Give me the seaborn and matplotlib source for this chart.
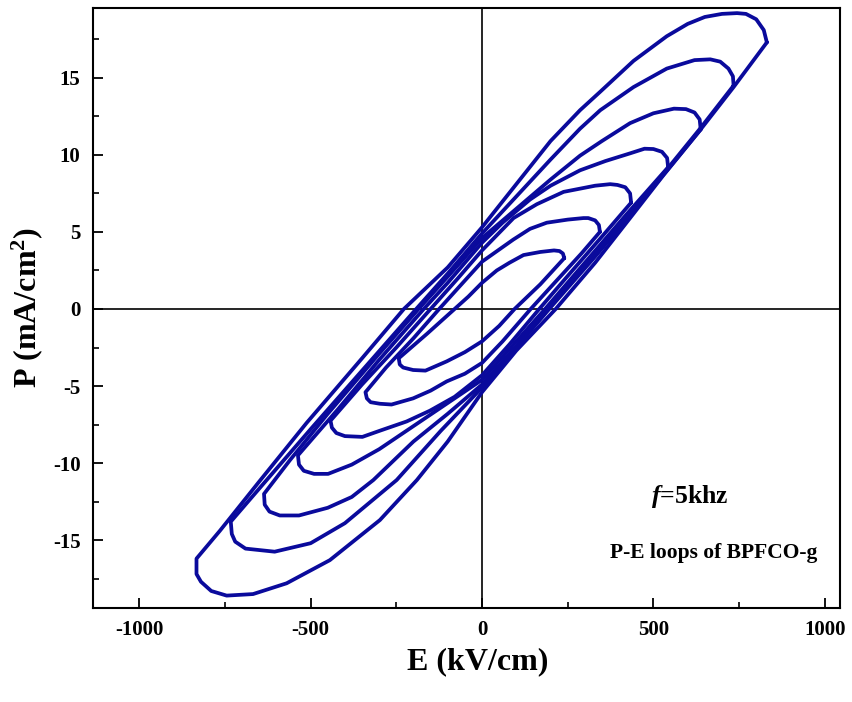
import matplotlib
matplotlib.use("Agg")
import matplotlib.pyplot as plt
import seaborn as sns
import pandas as pd
from matplotlib.ticker import MultipleLocator

# ---- data: P-E loops (E in kV/cm, P in mA/cm^2), traced right tip -> upper branch -> left tip -> lower branch -> right tip
loop1_E = [831, 822, 800, 770, 744, 700, 650, 600, 539, 442, 345, 286, 200, 100, 0, -100, -228, -350, -512, -650, -765, -833,
           -833, -820, -790, -745, -668, -570, -444, -298, -190, -100, 0, 100, 215, 330, 432, 530, 636, 734, 831]
loop1_P = [17.3, 18.1, 18.8, 19.15, 19.2, 19.15, 18.95, 18.5, 17.7, 16.1, 14.1, 12.9, 10.9, 8.1, 5.3, 2.7, 0.0, -3.2, -7.4, -11.2, -14.4, -16.2,
           -17.2, -17.7, -18.3, -18.6, -18.5, -17.8, -16.3, -13.7, -11.1, -8.6, -5.4, -2.7, 0.0, 3.0, 5.9, 8.7, 11.6, 14.4, 17.3]

loop2_E = [734, 732, 719, 695, 666, 620, 539, 442, 345, 286, 200, 100, 0, -100, -200, -350, -500, -640, -733,
           -733, -730, -720, -690, -605, -500, -400, -249, -120, 0, 100, 200, 330, 432, 530, 636, 734]
loop2_P = [14.5, 15.1, 15.6, 16.05, 16.2, 16.15, 15.6, 14.4, 12.9, 11.7, 9.7, 7.3, 4.9, 2.3, -0.2, -4.0, -7.8, -11.4, -13.8,
           -13.8, -14.6, -15.1, -15.55, -15.75, -15.2, -13.9, -11.1, -7.9, -5.1, -2.5, 0.1, 3.4, 6.1, 8.8, 11.7, 14.5]

loop3_E = [638, 635, 620, 595, 560, 500, 432, 350, 286, 200, 100, 0, -100, -185, -300, -450, -560, -636,
           -636, -634, -620, -590, -534, -450, -380, -317, -200, -100, 0, 100, 192, 300, 420, 540, 638]
loop3_P = [11.65, 12.3, 12.75, 12.97, 13.0, 12.7, 12.06, 10.9, 9.95, 8.4, 6.5, 4.6, 2.1, 0.0, -2.9, -6.8, -9.8, -12.0,
           -12.0, -12.7, -13.15, -13.4, -13.4, -12.9, -12.2, -11.1, -8.6, -6.8, -4.9, -2.4, 0.0, 2.8, 5.8, 9.0, 11.65]

loop4_E = [543, 540, 525, 500, 474, 432, 360, 286, 200, 140, 60, 0, -100, -170, -300, -420, -537,
           -537, -534, -520, -490, -449, -380, -300, -200, -100, 0, 100, 184, 300, 420, 543]
loop4_P = [9.2, 9.8, 10.2, 10.38, 10.4, 10.1, 9.6, 9.0, 8.0, 7.1, 5.6, 4.3, 1.7, 0.0, -3.3, -6.5, -9.5,
           -9.5, -10.1, -10.5, -10.7, -10.7, -10.1, -9.1, -7.6, -6.1, -4.6, -2.1, 0.0, 3.0, 6.1, 9.2]

loop5_E = [435, 432, 418, 395, 374, 330, 238, 160, 92, 0, -70, -150, -250, -350, -442,
           -442, -438, -425, -400, -349, -298, -220, -152, -80, 0, 80, 167, 260, 350, 435]
loop5_P = [6.9, 7.5, 7.9, 8.05, 8.1, 8.0, 7.6, 6.8, 5.9, 3.8, 2.0, 0.0, -2.5, -4.9, -7.25,
           -7.25, -7.7, -8.05, -8.25, -8.3, -7.9, -7.3, -6.6, -5.7, -4.3, -2.3, 0.0, 2.4, 4.7, 6.9]

loop6_E = [344, 341, 330, 310, 296, 250, 189, 140, 91, 0, -60, -125, -200, -280, -340,
           -340, -336, -325, -298, -264, -201, -150, -103, -50, 0, 60, 142, 220, 290, 344]
loop6_P = [5.0, 5.45, 5.75, 5.9, 5.9, 5.8, 5.6, 5.2, 4.5, 3.07, 1.6, 0.0, -1.9, -3.8, -5.4,
           -5.4, -5.8, -6.05, -6.15, -6.2, -5.8, -5.3, -4.7, -4.2, -3.5, -2.1, 0.0, 1.9, 3.6, 5.0]

loop7_E = [240, 236, 226, 210, 170, 121, 80, 43, 0, -40, -80, -160, -243,
           -243, -240, -230, -201, -165, -103, -50, 0, 50, 95, 170, 240]
loop7_P = [3.3, 3.6, 3.76, 3.8, 3.7, 3.5, 3.0, 2.5, 1.7, 0.8, 0.0, -1.6, -3.2,
           -3.2, -3.6, -3.8, -3.96, -4.0, -3.4, -2.8, -2.1, -1.1, 0.0, 1.6, 3.3]

loops = [(loop1_E, loop1_P), (loop2_E, loop2_P), (loop3_E, loop3_P), (loop4_E, loop4_P),
         (loop5_E, loop5_P), (loop6_E, loop6_P), (loop7_E, loop7_P)]

x_ticks = [-1000, -500, 0, 500, 1000]
y_ticks = [-15, -10, -5, 0, 5, 10, 15]
x_label = "E (kV/cm)"
y_label = r"P (mA/cm$^{2}$)"
note1 = r"$\mathit{f}$=5khz"
note2 = "P-E loops of BPFCO-g"

# ---- style
sns.set_theme(style="ticks")
plt.rcParams["font.family"] = ["Liberation Serif", "DejaVu Serif"]
plt.rcParams["font.weight"] = "bold"
plt.rcParams["axes.unicode_minus"] = False
plt.rcParams["text.color"] = "black"
plt.rcParams["axes.labelcolor"] = "black"
plt.rcParams["xtick.color"] = "black"
plt.rcParams["ytick.color"] = "black"
plt.rcParams["mathtext.fontset"] = "custom"
plt.rcParams["mathtext.rm"] = "Liberation Serif:bold"
plt.rcParams["mathtext.it"] = "Liberation Serif:italic:bold"
plt.rcParams["mathtext.bf"] = "Liberation Serif:bold"

line_color = "#0a0a9c"

fig = plt.figure(figsize=(8.53, 7.02), dpi=100)
ax = fig.add_axes([0.109, 0.134, 0.876, 0.855])

for E, P in loops:
    df = pd.DataFrame({"E": E, "P": P})
    sns.lineplot(data=df, x="E", y="P", sort=False, estimator=None, ax=ax,
                 color=line_color, linewidth=2.7, legend=False)

ax.axhline(0, color="black", lw=1.2, zorder=0)
ax.axvline(0, color="black", lw=1.2, zorder=0)

ax.set_xlim(-1135, 1045)
ax.set_ylim(-19.4, 19.55)
ax.set_xticks(x_ticks)
ax.set_yticks(y_ticks)
ax.xaxis.set_minor_locator(MultipleLocator(250))
ax.yaxis.set_minor_locator(MultipleLocator(2.5))
ax.tick_params(which="major", direction="in", length=7, width=1.3, labelsize=15, pad=9,
               colors="black")
ax.tick_params(which="minor", direction="in", length=4, width=1.2, colors="black")
for lab in ax.get_xticklabels() + ax.get_yticklabels():
    lab.set_fontweight("bold")
for sp in ax.spines.values():
    sp.set_visible(True)
    sp.set_linewidth(1.5)
    sp.set_color("black")

ax.set_xlabel(x_label, fontsize=23, fontweight="bold", labelpad=2, color="black")
ax.xaxis.set_label_coords(0.515, -0.065)
ax.set_ylabel(y_label, fontsize=23, fontweight="bold", labelpad=6, color="black")

ax.text(0.799, 0.185, note1, transform=ax.transAxes, ha="center", va="center",
        fontsize=18.5, fontweight="bold", color="black")
ax.text(0.831, 0.092, note2, transform=ax.transAxes, ha="center", va="center",
        fontsize=15.5, fontweight="bold", color="black")

fig.savefig("out.png", dpi=100)
